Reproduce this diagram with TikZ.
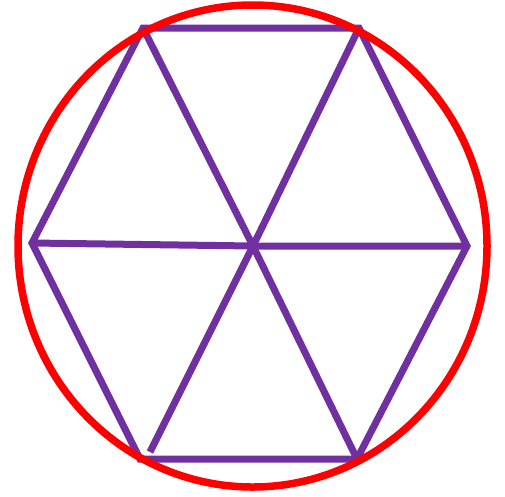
\documentclass[tikz,border=0pt]{standalone}
\definecolor{hexpurple}{HTML}{7030A0}
\begin{document}
\begin{tikzpicture}[x=1pt,y=-1pt,
  hexline/.style={draw=hexpurple,line width=7pt},
  ring/.style={draw=red,line width=7.5pt}]
\useasboundingbox (0,0) rectangle (505,496);
\coordinate (TL) at (143,28);
\coordinate (TR) at (359,28);
\coordinate (R) at (467,246);
\coordinate (BR) at (357,459);
\coordinate (BL) at (140,459);
\coordinate (L) at (32,243);
\coordinate (C) at (253,246);
\coordinate (BLs) at (150,452);
\draw[hexline] (TL) -- (TR) -- (R) -- (BR) -- (BL) -- (L) -- cycle;
\draw[hexline] (L) -- (C) -- (R);
\draw[hexline] (TL) -- (C) -- (BR);
\draw[hexline] (TR) -- (C) -- (BLs);
\draw[ring] (252.5,246) ellipse [x radius=234.5, y radius=241];
\end{tikzpicture}
\end{document}
